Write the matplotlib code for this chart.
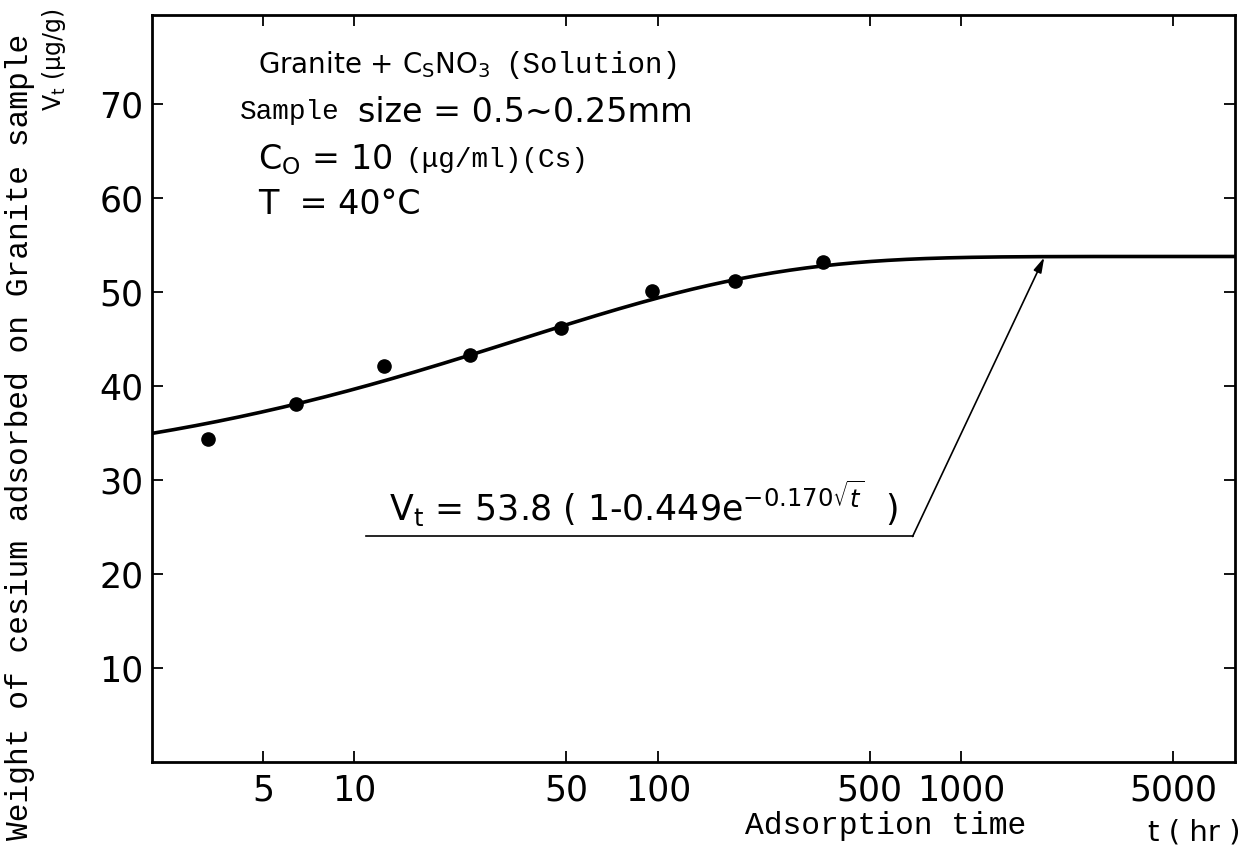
import matplotlib.pyplot as plt
import numpy as np

# measured points (adsorption time in hr, weight in ug/g)
t_obs = [3.3, 6.4, 12.5, 24, 48, 96, 180, 350]
v_obs = [34.4, 38.1, 42.1, 43.3, 46.2, 50.1, 51.2, 53.2]

# fitted curve parameters, from the equation shown on the chart
A = 53.8
B = 0.449
K = 0.170

x_ticks = [5, 10, 50, 100, 500, 1000, 5000]
x_labels = ['5', '10', '50', '100', '500', '1000', '5000']
y_ticks = [10, 20, 30, 40, 50, 60, 70]

W, H = 1243, 852
SANS = 'DejaVu Sans'
MONO = 'Liberation Mono'
plt.rcParams['mathtext.fontset'] = 'dejavusans'

fig = plt.figure(figsize=(W / 100, H / 100), dpi=100)
ax = fig.add_axes([152 / W, 90 / H, 1083 / W, 747 / H])

t_fit = np.logspace(np.log10(2.15), np.log10(8000), 400)
v_fit = A * (1 - B * np.exp(-K * np.sqrt(t_fit)))
ax.plot(t_fit, v_fit, color='black', lw=2.6)
ax.plot(t_obs, v_obs, 'o', color='black', ms=9.5)

ax.set_xscale('log')
ax.set_xlim(2.15, 8000)
ax.set_ylim(0, 79.5)
ax.set_xticks(x_ticks)
ax.set_xticklabels(x_labels)
ax.minorticks_off()
ax.set_yticks(y_ticks)
ax.tick_params(direction='in', length=8, width=1.3, top=True, right=True,
               labelsize=25, colors='black')
ax.tick_params(axis='x', pad=8)
ax.tick_params(axis='y', pad=6)
for lab in ax.get_xticklabels() + ax.get_yticklabels():
    lab.set_family(SANS)
for sp in ax.spines.values():
    sp.set_linewidth(2)

# equation with underline and leader arrow
ax.text(13, 25.6, r'V$_\mathregular{t}$ = 53.8 ( 1-0.449e$^{-0.170\sqrt{t}}$  )',
        fontsize=25, family=SANS, va='baseline', ha='left')
ax.plot([10.9, 692], [24, 24], color='black', lw=1.2)
ax.annotate('', xy=(1880, 53.7), xytext=(692, 24),
            arrowprops=dict(arrowstyle='-|>,head_length=0.9,head_width=0.25',
                            color='black', lw=1.2, shrinkA=0, shrinkB=0))


def ftext(x, y, s, **kw):
    fig.text(x / W, 1 - y / H, s, va='center', ha='left', **kw)


ftext(258, 65, r'Granite + C$_\mathregular{S}$NO$_\mathregular{3}$', fontsize=20, family=SANS)
ftext(505, 65, '(Solution)', fontsize=21, family=MONO)
ftext(240, 112, 'Sample', fontsize=20, family=MONO)
ftext(358, 112, 'size = 0.5\u223c0.25mm', fontsize=24, family=SANS)
ftext(258, 160, r'C$_\mathregular{O}$ = 10', fontsize=24, family=SANS)
ftext(405, 160, '(\u03bcg/ml)(Cs)', fontsize=20, family=MONO)
ftext(258, 205, 'T  = 40\u00b0C', fontsize=24, family=SANS)

# axis titles
fig.text(20 / W, 1 - 437 / H, 'Weight of cesium adsorbed on Granite sample',
         rotation=90, fontsize=22.5, family=MONO, ha='center', va='center')
fig.text(54 / W, 1 - 60 / H, r'V$_\mathregular{t}$ ($\mathregular{\mu}$g/g)',
         rotation=90, fontsize=17, family=SANS, ha='center', va='center')
fig.text(886 / W, 1 - 826 / H, 'Adsorption time', fontsize=22.5, family=MONO,
         ha='center', va='center')
fig.text(1194 / W, 1 - 832 / H, 't ( hr )', fontsize=21, family=SANS,
         ha='center', va='center')

fig.savefig('out.png', dpi=100)
